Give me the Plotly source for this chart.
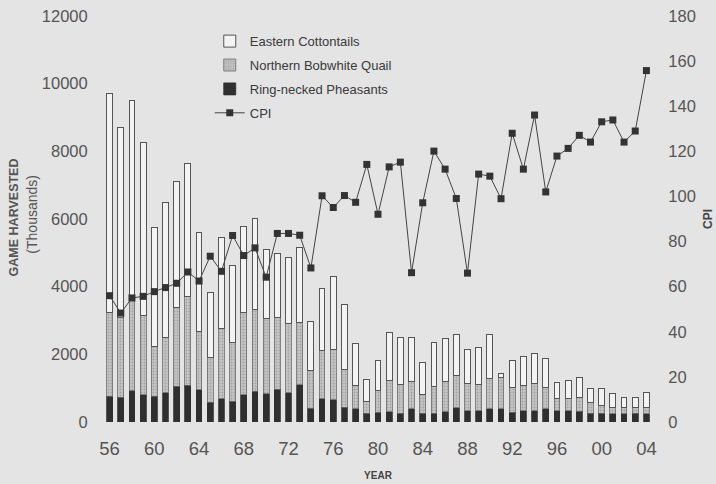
import plotly.graph_objects as go

years = list(range(1956, 2005))

pheasant = [760, 735, 930, 800, 755, 860, 1050, 1090, 950, 590, 690, 620, 805, 910, 835, 970,
            865, 1100, 410, 690, 660, 440, 390, 260, 290, 310, 260, 390, 260, 260, 310, 420,
            340, 340, 390, 390, 290, 340, 340, 390, 340, 340, 320, 260, 260, 240, 240, 260, 240]

quail = [2490, 2340, 2735, 2355, 1490, 1630, 2340, 2625, 1730, 1330, 2070, 1720, 2430, 2420,
         2210, 2115, 2050, 1835, 1115, 1425, 1475, 1115, 690, 355, 645, 920, 850, 800, 555,
         790, 890, 950, 790, 770, 905, 920, 740, 740, 810, 640, 345, 345, 395, 325, 230, 200,
         180, 180, 200]

cottontail = [6470, 5640, 5850, 5100, 3505, 4005, 3710, 3930, 2920, 1895, 2695, 2295, 2545,
              2695, 2055, 1895, 1945, 2220, 1450, 1825, 2165, 1915, 1250, 635, 890, 1410, 1380,
              1320, 955, 1305, 1265, 1230, 1005, 1105, 1295, 120, 790, 870, 885, 860, 490, 540,
              590, 400, 495, 400, 315, 280, 445]

cpi = [56, 48.3, 55, 55.7, 57.8, 59.6, 61.5, 66.5, 62.5, 73.5, 66.8, 82.7, 73.8, 77.2, 64.2,
       83.6, 83.6, 82.8, 68.3, 100.3, 95.1, 100.4, 97.4, 114.2, 92.1, 113.1, 115.2, 66.2, 97.2,
       120.1, 112.1, 99.1, 66, 109.9, 109, 99, 128, 112.1, 136.1, 102, 117.9, 121.3, 127.1,
       124.1, 133.1, 133.9, 124.1, 129, 155.8]

tick_years = list(range(1956, 2005, 4))
tick_text = ["56", "60", "64", "68", "72", "76", "80", "84", "88", "92", "96", "00", "04"]

FONT = "Liberation Sans, Arial, sans-serif"
BG = "#e4e4e4"

fig = go.Figure()
fig.add_trace(go.Bar(
    x=years, y=pheasant, name="Ring-necked Pheasants", legendrank=3, legendgroup="c",
    marker=dict(color="#2f2f2f", line=dict(color="#2f2f2f", width=0.8)),
))
fig.add_trace(go.Bar(
    x=years, y=quail, name="Northern Bobwhite Quail", legendrank=2, legendgroup="b",
    marker=dict(color="#bdbdbd",
                pattern=dict(shape=".", fgcolor="#7d7d7d", bgcolor="#c6c6c6", size=3, solidity=0.35),
                line=dict(color="#6a6a6a", width=0.8)),
))
fig.add_trace(go.Bar(
    x=years, y=cottontail, name="Eastern Cottontails", legendrank=1, legendgroup="a",
    marker=dict(color="#f3f3f3", line=dict(color="#555555", width=1)),
))
fig.add_trace(go.Scatter(
    x=years, y=cpi, name="CPI", yaxis="y2", mode="lines+markers", legendrank=4, legendgroup="d",
    line=dict(color="#444444", width=1),
    marker=dict(symbol="square", size=7, color="#333333"),
))

fig.update_layout(
    width=716, height=484,
    margin=dict(l=104, r=64, t=16, b=62, autoexpand=False),
    paper_bgcolor=BG, plot_bgcolor=BG,
    barmode="stack", bargap=0.48,
    font=dict(family=FONT, color="#555555"),
    showlegend=True,
    legend=dict(x=0.193, y=0.975, xanchor="left", yanchor="top",
                bgcolor="rgba(0,0,0,0)", font=dict(size=13, color="#3a3a3a"),
                tracegroupgap=4, itemwidth=30),
    xaxis=dict(range=[1955.5, 2004.5], tickvals=tick_years, ticktext=tick_text,
               tickfont=dict(size=18.5, color="#555555"), showgrid=False, zeroline=False,
               showline=False, ticks="outside", ticklen=10, tickcolor="rgba(0,0,0,0)",
               title=dict(text="<b>YEAR</b>", font=dict(size=10, color="#444444"), standoff=13)),
    yaxis=dict(range=[0, 12000], dtick=2000, tickformat="d",
               tickfont=dict(size=16.5, color="#555555"),
               showgrid=False, zeroline=False, showline=False,
               ticks="outside", ticklen=12, tickcolor="rgba(0,0,0,0)"),
    yaxis2=dict(range=[0, 180], dtick=20, overlaying="y", side="right",
                tickfont=dict(size=16.5, color="#555555"),
                showgrid=False, zeroline=False, showline=False,
                ticks="outside", ticklen=12, tickcolor="rgba(0,0,0,0)",
                title=dict(text="<b>CPI</b>", font=dict(size=12, color="#444444"), standoff=8)),
    annotations=[
        dict(text="<b>GAME HARVESTED</b>", xref="paper", yref="paper", x=0, y=0.504,
             xshift=-90, xanchor="center", yanchor="middle", textangle=-90, showarrow=False,
             font=dict(size=12.5, color="#555555")),
        dict(text="(Thousands)", xref="paper", yref="paper", x=0, y=0.512,
             xshift=-71.5, xanchor="center", yanchor="middle", textangle=-90, showarrow=False,
             font=dict(size=14, color="#555555")),
    ],
)

fig.write_html(
    "out.html",
    config={"displayModeBar": False},
    post_script="document.body.style.margin='0';document.body.style.background='%s';" % BG,
)
